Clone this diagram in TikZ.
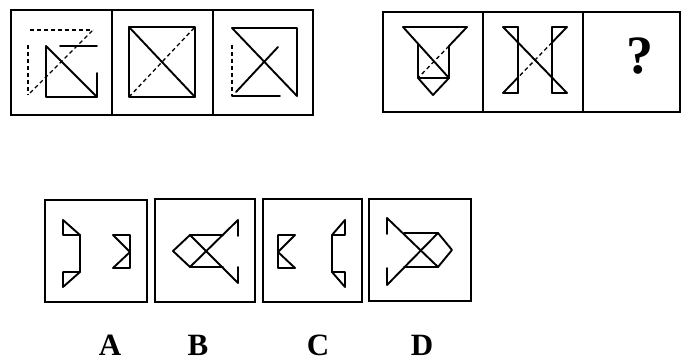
\documentclass[tikz,border=0pt]{standalone}
\usepackage{fontspec}
\newfontfamily\lab{Liberation Serif}
\begin{document}
\begin{tikzpicture}[x=1pt,y=-1pt,
  box/.style={line width=2.6pt},
  fig/.style={line width=1.9pt, line join=round, line cap=round},
  dsh/.style={line width=1.3pt, dash pattern=on 4pt off 3pt},
  lbl/.style={font=\lab\bfseries\fontsize{31}{31}\selectfont, inner sep=0pt}]
\useasboundingbox (0,0) rectangle (681,361);
\fill[white] (0,0) rectangle (681,361);

% ---------- left group ----------
\draw[box] (11,10) rectangle (313,115);
\draw[box] (112,10) -- (112,115);
\draw[box] (213,10) -- (213,115);
% cell 1
\draw[dsh] (30,30) -- (93,30);
\draw[dsh] (28,45) -- (28,95);
\draw[dsh] (30,93) -- (93,30);
\draw[fig] (60,46) -- (97,46);
\draw[fig] (46,46) -- (46,97) -- (97,97) -- (97,73);
\draw[fig] (46,46) -- (97,97);
% cell 2
\draw[fig] (129,27) rectangle (195,97);
\draw[fig] (129,27) -- (195,97);
\draw[dsh] (129,97) -- (195,27);
% cell 3
\draw[fig] (232,28) -- (297,28) -- (297,96);
\draw[fig] (232,96) -- (280,96);
\draw[dsh] (232,45) -- (232,96);
\draw[fig] (232,28) -- (297,96);
\draw[fig] (236,92) -- (278,47);

% ---------- right group ----------
\draw[box] (383,12) rectangle (680,112);
\draw[box] (483,12) -- (483,112);
\draw[box] (583,12) -- (583,112);
% cell 1
\draw[fig] (403,27) -- (467,27);
\draw[fig] (403,27) -- (449,78);
\draw[fig] (467,27) -- (449,46) -- (449,78);
\draw[fig] (418,44) -- (418,78) -- (449,78);
\draw[dsh] (449,46) -- (418,78);
\draw[fig] (418,78) -- (433,95) -- (449,78);
% cell 2
\draw[fig] (503,27) -- (567,93);
\draw[fig] (567,27) -- (552,42.5);
\draw[dsh] (552,42.5) -- (518,77.5);
\draw[fig] (518,77.5) -- (503,93);
\draw[fig] (518,27) -- (518,93);
\draw[fig] (552,27) -- (552,93);
\draw[fig] (503,27) -- (518,27);
\draw[fig] (552,27) -- (567,27);
\draw[fig] (503,93) -- (518,93);
\draw[fig] (552,93) -- (567,93);
% cell 3
\node[font=\lab\bfseries\fontsize{54}{54}\selectfont, inner sep=0pt] (q) at (640,56) {?};

% ---------- answer boxes ----------
\draw[box] (45,200) rectangle (147,302);
\draw[box] (155,199) rectangle (255,302);
\draw[box] (263,199) rectangle (362,302);
\draw[box] (369,199) rectangle (471,301);
% A
\draw[fig] (63,220) -- (80,235) -- (63,235) -- cycle;
\draw[fig] (80,235) -- (80,272);
\draw[fig] (63,287) -- (80,272) -- (63,272) -- cycle;
\draw[fig] (113,235) -- (130,235) -- (130,252) -- cycle;
\draw[fig] (130,252) -- (130,268) -- (113,268) -- cycle;
% B
\draw[fig] (190,235) -- (173,251) -- (190,267);
\draw[fig] (190,235) -- (223,235);
\draw[fig] (190,267) -- (223,267);
\draw[fig] (190,235) -- (238,283);
\draw[fig] (190,267) -- (238,220);
\draw[fig] (238,220) -- (238,236);
\draw[fig] (238,267) -- (238,283);
% C
\draw[fig] (295,235) -- (278,235) -- (278,252) -- cycle;
\draw[fig] (278,252) -- (278,268) -- (295,268) -- cycle;
\draw[fig] (345,220) -- (332,235) -- (345,235) -- cycle;
\draw[fig] (332,235) -- (332,272);
\draw[fig] (345,287) -- (332,272) -- (345,272) -- cycle;
% D
\draw[fig] (438,233) -- (452,250) -- (438,267);
\draw[fig] (404,233) -- (438,233);
\draw[fig] (404,267) -- (438,267);
\draw[fig] (387,218) -- (438,267);
\draw[fig] (387,285) -- (438,233);
\draw[fig] (387,218) -- (387,234);
\draw[fig] (387,268) -- (387,285);

% ---------- labels ----------
\node[lbl] (la) at (110,345) {A};
\node[lbl] (lb) at (198,345) {B};
\node[lbl] (lc) at (318,345) {C};
\node[lbl] (ld) at (422,345) {D};
\end{tikzpicture}
\end{document}
